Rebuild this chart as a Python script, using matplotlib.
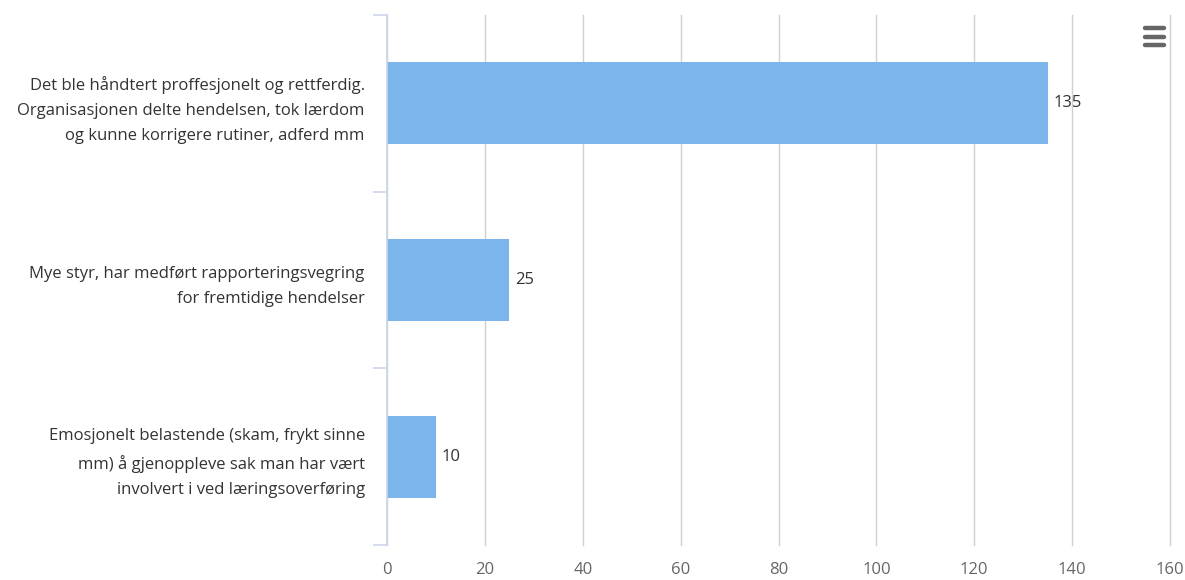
import matplotlib
matplotlib.use("Agg")
import matplotlib.pyplot as plt
from matplotlib.lines import Line2D

categories = [
    "Det ble håndtert proffesjonelt og rettferdig.\nOrganisasjonen delte hendelsen, tok lærdom\nog kunne korrigere rutiner, adferd mm",
    "Mye styr, har medført rapporteringsvegring\nfor fremtidige hendelser",
    "Emosjonelt belastende (skam, frykt sinne\nmm) å gjenoppleve sak man har vært\ninvolvert i ved læringsoverføring",
]
values = [135, 25, 10]
xticks = [0, 20, 40, 60, 80, 100, 120, 140, 160]

plt.rcParams['font.family'] = ['Open Sans', 'DejaVu Sans']

W, H = 1185, 580
fig = plt.figure(figsize=(W / 100, H / 100), dpi=100)
ax = fig.add_axes([387 / W, 1 - 545 / H, (1170 - 387) / W, (545 - 15) / H])

ypos = list(range(len(categories)))
ax.barh(ypos, values, height=0.465, color="#7cb5ec", zorder=3)
for y, v in zip(ypos, values):
    ax.text(v + 1.2, y, str(v), va="center", ha="left", fontsize=12, color="#333333", zorder=4)

ax.set_xlim(0, 160)
ax.set_ylim(2.5, -0.5)
ax.set_xticks(xticks)
ax.set_xticklabels([str(t) for t in xticks], fontsize=12, color="#666666")
ax.tick_params(axis="x", length=0, pad=12)
ax.grid(axis="x", color="#d0d0d0", linewidth=1, zorder=0)
for gl in ax.get_xgridlines():
    gl.set_clip_on(False)

ax.set_yticks(ypos)
ax.set_yticklabels(categories, fontsize=12, color="#333333", linespacing=1.78)
ax.tick_params(axis="y", which="major", length=0, pad=16)
ax.set_yticks([-0.5, 0.5, 1.5, 2.5], minor=True)
ax.tick_params(axis="y", which="minor", length=10, width=1.2, color="#ccd6eb")

for s in ["top", "right", "bottom"]:
    ax.spines[s].set_visible(False)
ax.spines["left"].set_color("#ccd6eb")
ax.spines["left"].set_linewidth(1.2)
ax.spines["left"].set_zorder(5)

# menu icon
for yy in [28, 37, 45]:
    fig.add_artist(Line2D([1145 / W, 1164 / W], [1 - yy / H, 1 - yy / H],
                          color="#666666", linewidth=3.2, solid_capstyle="round",
                          transform=fig.transFigure))

fig.savefig("out.png", dpi=100)
